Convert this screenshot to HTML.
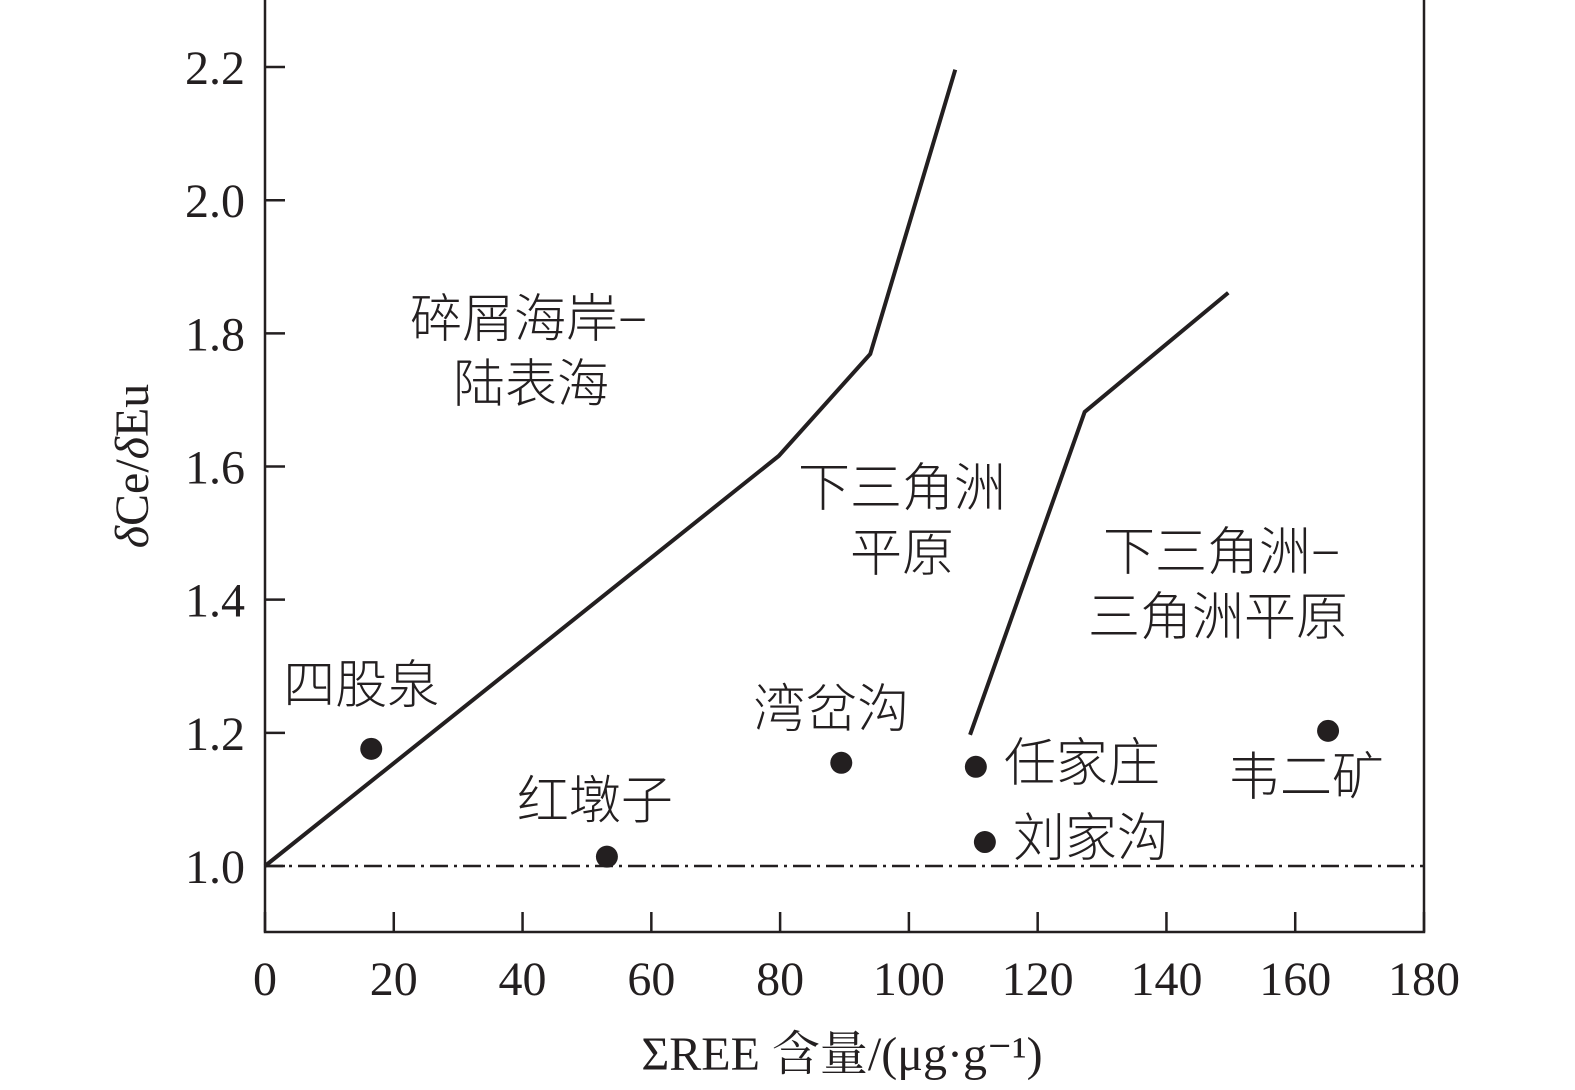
<!DOCTYPE html>
<html><head><meta charset="utf-8"><style>
html,body{margin:0;background:#fff;overflow:hidden;width:1575px;height:1090px}
svg{display:block}
svg text{font-family:"Liberation Serif","Noto Serif CJK SC",serif;fill:#231f20}
.cn{font-family:"Liberation Serif","Noto Sans CJK SC",sans-serif;font-size:52px;font-weight:300}
</style></head><body>
<svg id="chart" width="1575" height="1090" xmlns="http://www.w3.org/2000/svg"></svg>
<script>
const xTicks=[0,20,40,60,80,100,120,140,160,180];
const yTicks=[1.0,1.2,1.4,1.6,1.8,2.0,2.2];
const sampleNames=["四股泉","红墩子","湾岔沟","任家庄","刘家沟","韦二矿"];
const sampleX=[16.5,53.1,89.5,110.4,111.8,165.1];
const sampleY=[1.176,1.014,1.155,1.149,1.036,1.203];
const labelDX=[-88,-90,-88,28,28,-100];
const labelDY=[-46,-38,-36,14,14,64];
const boundary1X=[0,79.8,94,107.2];
const boundary1Y=[1.0,1.616,1.769,2.196];
const boundary2X=[109.5,127.3,149.6];
const boundary2Y=[1.197,1.682,1.861];
const NS="http://www.w3.org/2000/svg";
const svg=document.getElementById('chart');
const X=v=>265+v*(1159/180);
const Y=v=>866-(v-1)*665.8;
function mk(t,a,txt){const e=document.createElementNS(NS,t);for(const k in a)e.setAttribute(k,a[k]);if(txt!==undefined)e.textContent=txt;svg.appendChild(e);return e;}
let e;
e=mk('rect',{x:265,y:-2,width:1159,height:934,fill:'none',stroke:'#231f20','stroke-width':2.5});


xTicks.forEach(t=>{
 e=mk('line',{x1:X(t),x2:X(t),y1:932,y2:912,stroke:'#231f20','stroke-width':2.5});
 
 
 e=mk('text',{x:X(t),y:995,'text-anchor':'middle','font-size':48},String(t));
 
 
});
yTicks.forEach(t=>{
 e=mk('line',{x1:265,x2:285,y1:Y(t),y2:Y(t),stroke:'#231f20','stroke-width':2.5});
 
 
 e=mk('text',{x:245,y:Y(t)+17,'text-anchor':'end','font-size':48},t.toFixed(1));
 
 
});
e=mk('line',{x1:265,x2:1424,y1:Y(1),y2:Y(1),stroke:'#231f20','stroke-width':2.5,'stroke-dasharray':'18,6,3,6'});


e=mk('polyline',{points:boundary1X.map((x,i)=>X(x)+','+Y(boundary1Y[i])).join(' '),fill:'none',stroke:'#231f20','stroke-width':4});


e=mk('polyline',{points:boundary2X.map((x,i)=>X(x)+','+Y(boundary2Y[i])).join(' '),fill:'none',stroke:'#231f20','stroke-width':4});


sampleX.forEach((x,i)=>{
 e=mk('circle',{cx:X(x),cy:Y(sampleY[i]),r:11,fill:'#231f20'});
 
 
 e=mk('text',{x:X(x)+labelDX[i],y:Y(sampleY[i])+labelDY[i],class:'cn'},sampleNames[i]);
 
 
});
const regions=[["碎屑海岸−",410,337],["陆表海",453,402],["下三角洲",798,506],["平原",850,571],["下三角洲−",1103,570],["三角洲平原",1088,635]];
regions.forEach(r=>{
 e=mk('text',{x:r[1],y:r[2],class:'cn'},r[0]);
 
 
});
e=mk('text',{x:842,y:1070,'text-anchor':'middle','font-size':48},'ΣREE 含量/(μg·g⁻¹)');


e=mk('text',{x:0,y:0,'text-anchor':'middle','font-size':48,transform:'translate(148,466) rotate(-90)'});


e.innerHTML='<tspan font-style="italic">δ</tspan>Ce/<tspan font-style="italic">δ</tspan>Eu';
</script>
</body></html>
